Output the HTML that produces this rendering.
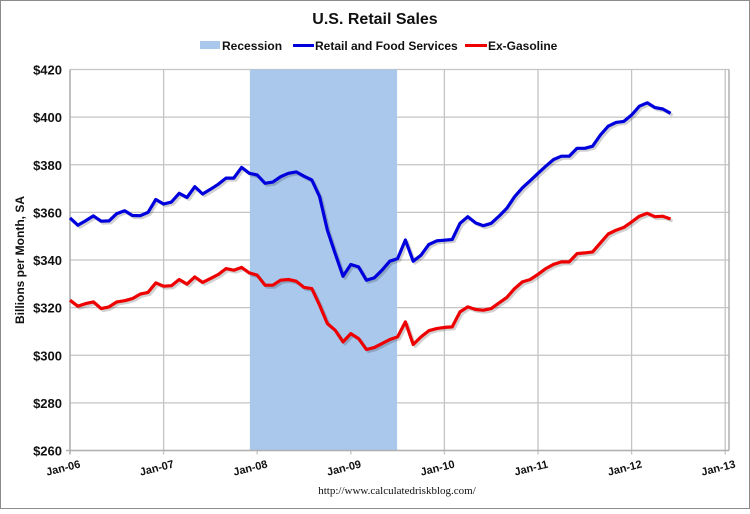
<!DOCTYPE html>
<html><head><meta charset="utf-8"><style>
body{margin:0;background:#fff}
svg text{font-family:"Liberation Sans",sans-serif}
</style></head><body>
<svg width="750" height="509" viewBox="0 0 750 509" xmlns="http://www.w3.org/2000/svg">
<rect x="0.5" y="0.5" width="749" height="508" fill="#fff" stroke="#8c8c8c"/>
<text x="375" y="24" text-anchor="middle" font-size="16" font-weight="bold" fill="#111">U.S. Retail Sales</text>
<g>
<g><rect x="200" y="41" width="20" height="8" fill="#a9c8ec"/><text x="222" y="50" font-size="12" font-weight="bold" fill="#111">Recession</text></g>
<g><line x1="293" y1="45.5" x2="314" y2="45.5" stroke="#0000dd" stroke-width="3"/><text x="315" y="50" font-size="12" font-weight="bold" fill="#111">Retail and Food Services</text></g>
<g><line x1="465" y1="45.5" x2="487" y2="45.5" stroke="#ee0000" stroke-width="3"/><text x="488" y="50" font-size="12" font-weight="bold" fill="#111">Ex-Gasoline</text></g>
</g>
<g id="plot"></g>
<text transform="translate(24,260) rotate(-90)" text-anchor="middle" font-size="12" font-weight="bold" fill="#111">Billions per Month, SA</text>
<text x="397" y="494" text-anchor="middle" font-size="11" fill="#111" style="font-family:'Liberation Serif',serif">http://www.calculatedriskblog.com/</text>
</svg>
<script>
const yTicks=[260,280,300,320,340,360,380,400,420];
const xTickLabels=["Jan-06","Jan-07","Jan-08","Jan-09","Jan-10","Jan-11","Jan-12","Jan-13"];
const recessionStart=23, recessionEnd=42;
const retail=[357.7,354.6,356.5,358.5,356.3,356.4,359.5,360.7,358.7,358.6,360,365.4,363.5,364.3,368,366.3,370.8,367.7,369.7,371.8,374.4,374.4,378.9,376.4,375.7,372.2,372.7,375,376.4,377,375.2,373.6,366.6,352.5,342.7,333.2,338.1,337.1,331.5,332.5,335.7,339.5,340.6,348.4,339.5,342,346.5,348,348.3,348.6,355.4,358.2,355.6,354.4,355.4,358.4,361.7,366.6,370.3,373.3,376.4,379.4,382.2,383.6,383.6,386.9,386.9,387.8,392.5,396.2,397.8,398.2,400.9,404.6,406,404,403.4,401.6];
const exGas=[323.1,320.6,321.7,322.4,319.6,320.3,322.4,322.9,323.8,325.7,326.4,330.4,329,329.2,331.8,329.9,332.9,330.6,332.2,333.9,336.4,335.7,336.9,334.6,333.6,329.4,329.4,331.5,331.8,331.1,328.5,328,321,313.3,310.5,305.6,309.1,307,302.4,303.2,304.9,306.6,307.7,314,304.5,307.7,310.3,311.2,311.7,311.9,318.2,320.3,319.2,318.9,319.6,322,324.3,328,330.8,331.8,334,336.4,338.2,339.2,339.2,342.7,343,343.4,347.2,350.9,352.5,353.7,356,358.4,359.6,358.2,358.4,357.2];
const X0=70,MW=7.8,PR=729,PT=69.5,PB=450.5;
const xs=m=>X0+m*MW;
const ys=v=>PB-(v-260)*(PB-PT)/160;
const NS="http://www.w3.org/2000/svg";
const g=document.getElementById('plot');
function mk(t,a){const e=document.createElementNS(NS,t);for(const k in a)e.setAttribute(k,a[k]);g.appendChild(e);return e;}
// gridlines
yTicks.forEach(v=>{
 const l=mk('line',{x1:X0,x2:PR,y1:ys(v),y2:ys(v),stroke:'#c4c4c4','stroke-width':1.3});
 
 
 const t=mk('text',{x:X0-8,y:ys(v)+5,'text-anchor':'end','font-size':13,'font-weight':'bold',fill:'#111'});
 t.textContent='$'+v;
 
 
});
xTickLabels.forEach((s,i)=>{
 const x=xs(i*12);
 const l=mk('line',{x1:x,x2:x,y1:PT,y2:PB+4,stroke:'#c4c4c4','stroke-width':1.3});
 
 
 const t=mk('text',{'font-size':11,'font-weight':'bold',fill:'#111','text-anchor':'middle',transform:`translate(${x-6},${PB+21}) rotate(-14)`});
 t.textContent=s;
 
 
});
const r=mk('rect',{x:xs(recessionStart)+0.5,y:PT,width:xs(recessionEnd)-xs(recessionStart)-1,height:PB-PT,fill:'#a9c8ec'});


[[X0,PT,X0,PB+4],[X0-4,PB,PR,PB],[PR,PT,PR,PB]].forEach(c=>{
 const l=mk('line',{x1:c[0],y1:c[1],x2:c[2],y2:c[3],stroke:'#b0b0b0','stroke-width':1.5});
 
 
});
function series(arr,col,name){
 const d=arr.map((v,i)=>(i?'L':'M')+xs(i).toFixed(1)+','+ys(v).toFixed(1)).join('');
 const sh=mk('path',{d:d,fill:'none',stroke:'rgba(0,0,0,0.18)','stroke-width':3,transform:'translate(2,2)','stroke-linejoin':'round'});
 
 
 const p=mk('path',{d:d,fill:'none',stroke:col,'stroke-width':3.2,'stroke-linejoin':'round'});
 
 
}
series(exGas,'#ee0000','ex-gasoline');
series(retail,'#0000dd','retail-food-services');
</script>
</body></html>
